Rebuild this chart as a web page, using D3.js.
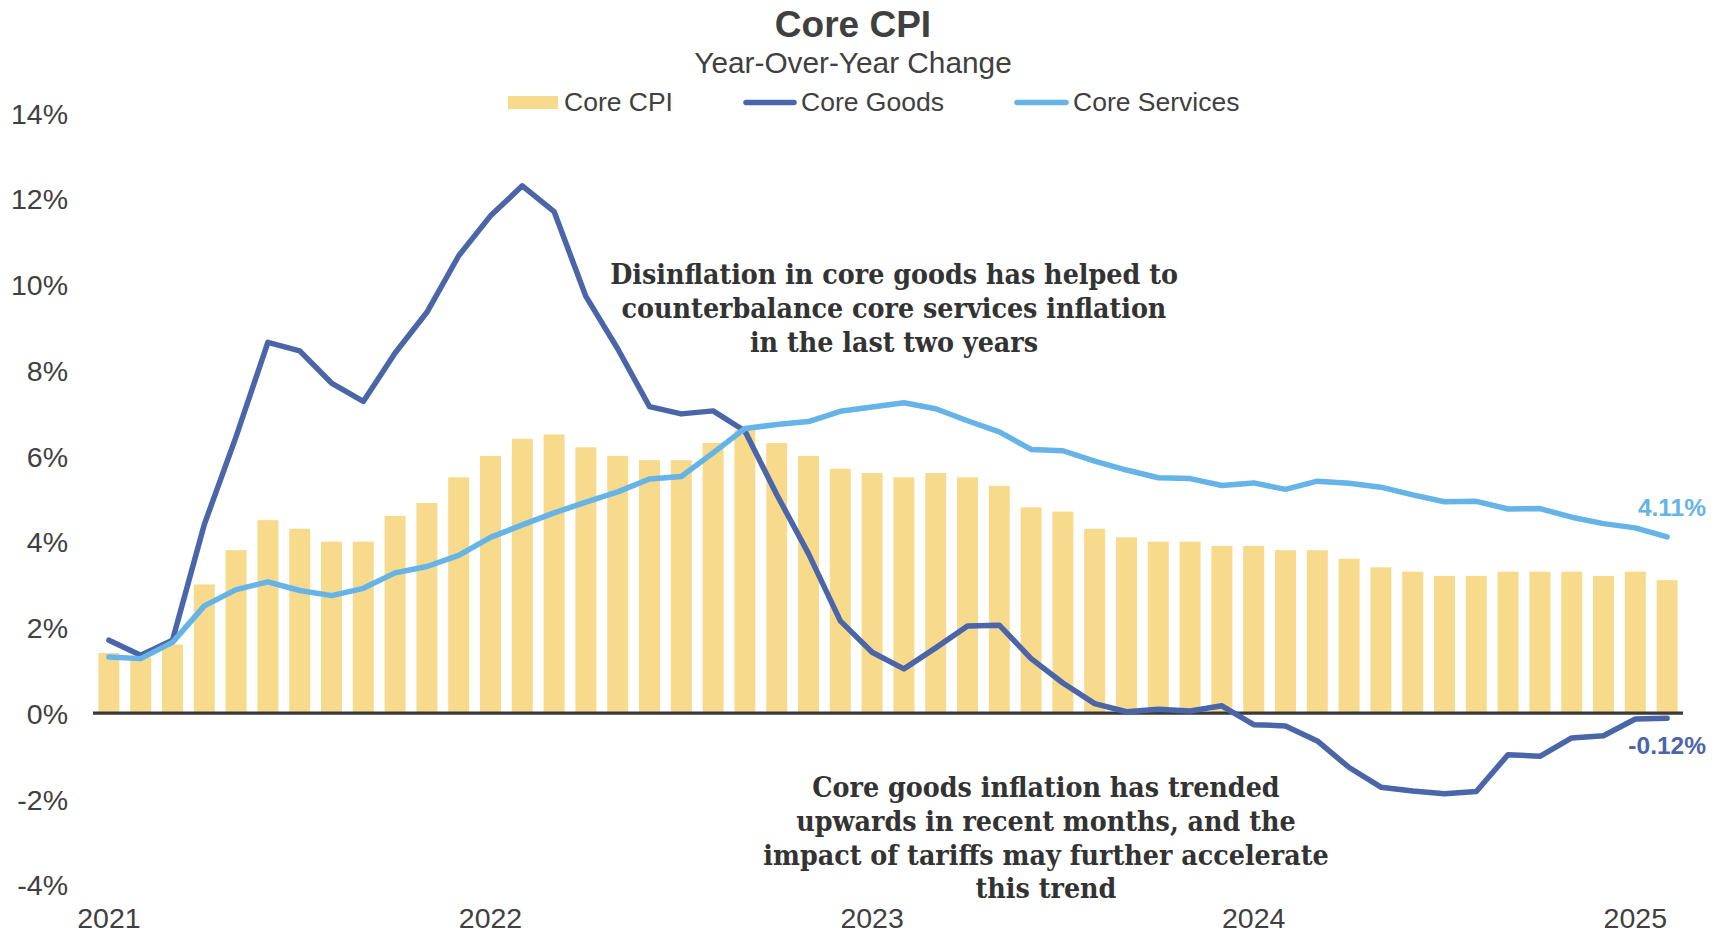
<!DOCTYPE html>
<html>
<head>
<meta charset="utf-8">
<script src="https://cdn.jsdelivr.net/npm/d3@7/dist/d3.min.js"></script>
<style>
  html, body { margin: 0; padding: 0; background: #ffffff; }
  svg { display: block; }
</style>
</head>
<body>
<svg id="chart" width="1723" height="933"></svg>
<script>
// Monthly observations, Jan 2021 – Feb 2025
const months = [
  "2021-01","2021-02","2021-03","2021-04","2021-05","2021-06","2021-07","2021-08","2021-09","2021-10","2021-11","2021-12",
  "2022-01","2022-02","2022-03","2022-04","2022-05","2022-06","2022-07","2022-08","2022-09","2022-10","2022-11","2022-12",
  "2023-01","2023-02","2023-03","2023-04","2023-05","2023-06","2023-07","2023-08","2023-09","2023-10","2023-11","2023-12",
  "2024-01","2024-02","2024-03","2024-04","2024-05","2024-06","2024-07","2024-08","2024-09","2024-10","2024-11","2024-12",
  "2025-01","2025-02"
];

// Core CPI, year-over-year %
const coreCPI = [
  1.4, 1.3, 1.6, 3.0, 3.8, 4.5, 4.3, 4.0, 4.0, 4.6, 4.9, 5.5,
  6.0, 6.4, 6.5, 6.2, 6.0, 5.9, 5.9, 6.3, 6.6, 6.3, 6.0, 5.7,
  5.6, 5.5, 5.6, 5.5, 5.3, 4.8, 4.7, 4.3, 4.1, 4.0, 4.0, 3.9,
  3.9, 3.8, 3.8, 3.6, 3.4, 3.3, 3.2, 3.2, 3.3, 3.3, 3.3, 3.2,
  3.3, 3.1
];

// Core goods, year-over-year %
const coreGoods = [
  1.7, 1.35, 1.7, 4.4, 6.45, 8.65, 8.45, 7.7, 7.27, 8.4, 9.35, 10.67,
  11.6, 12.3, 11.7, 9.72, 8.5, 7.15, 6.98, 7.05, 6.58, 5.1, 3.72, 2.15,
  1.42, 1.03, 1.52, 2.03, 2.05, 1.27, 0.7, 0.22, 0.03, 0.09, 0.05, 0.17,
  -0.27, -0.3, -0.65, -1.27, -1.73, -1.82, -1.88, -1.83, -0.97, -1.01, -0.58, -0.53,
  -0.14, -0.12
];

// Core services, year-over-year %
const coreServices = [
  1.31, 1.27, 1.65, 2.5, 2.88, 3.06, 2.86, 2.74, 2.91, 3.27, 3.42, 3.68,
  4.1, 4.39, 4.67, 4.92, 5.16, 5.46, 5.52, 6.07, 6.64, 6.73, 6.8, 7.04,
  7.14, 7.24, 7.1, 6.82, 6.56, 6.15, 6.12, 5.88, 5.67, 5.49, 5.47, 5.31,
  5.37, 5.22, 5.41, 5.36, 5.27, 5.09, 4.93, 4.94, 4.76, 4.77, 4.57, 4.42,
  4.32, 4.11
];

const yTicks = [-4, -2, 0, 2, 4, 6, 8, 10, 12, 14];
const yearLabels = ["2021", "2022", "2023", "2024", "2025"];

const seriesNames = ["Core CPI", "Core Goods", "Core Services"];
const colors = { cpi: "#f7da8c", goods: "#4a65a8", services: "#66b3e8", text: "#404040" };

const noteTop = [
  "Disinflation in core goods has helped to",
  "counterbalance core services inflation",
  "in the last two years"
];
const noteBottom = [
  "Core goods inflation has trended",
  "upwards in recent months, and the",
  "impact of tariffs may further accelerate",
  "this trend"
];

const svg = d3.select("#chart");
const sans = "'Liberation Sans', Arial, sans-serif";
const serif = "'DejaVu Serif Condensed', 'Liberation Serif', serif";

const x = d3.scaleBand().domain(months).range([93, 1683]).paddingInner(0.34).paddingOuter(0.17);
const y = d3.scaleLinear().domain([-4, 14]).range([884.5, 113]);
const cx = m => x(m) + x.bandwidth() / 2;

// Title block
svg.append("text").attr("x", 853).attr("y", 37).attr("text-anchor", "middle")
  .attr("font-family", sans).attr("font-weight", "bold").attr("font-size", 37)
  .attr("fill", colors.text).text("Core CPI");
svg.append("text").attr("x", 853).attr("y", 73).attr("text-anchor", "middle")
  .attr("font-family", sans).attr("font-size", 29.8)
  .attr("fill", colors.text).text("Year-Over-Year Change");

// Legend
const legend = svg.append("g").attr("font-family", sans).attr("font-size", 26.5).attr("fill", colors.text);
legend.append("rect").attr("x", 508).attr("y", 96).attr("width", 50).attr("height", 13).attr("fill", colors.cpi);
legend.append("text").attr("x", 564).attr("y", 111).text(seriesNames[0]);
legend.append("line").attr("x1", 746).attr("x2", 794).attr("y1", 102.5).attr("y2", 102.5)
  .attr("stroke", colors.goods).attr("stroke-width", 5.5).attr("stroke-linecap", "round");
legend.append("text").attr("x", 801).attr("y", 111).text(seriesNames[1]);
legend.append("line").attr("x1", 1017).attr("x2", 1066).attr("y1", 102.5).attr("y2", 102.5)
  .attr("stroke", colors.services).attr("stroke-width", 5.5).attr("stroke-linecap", "round");
legend.append("text").attr("x", 1073).attr("y", 111).text(seriesNames[2]);

// Y axis (labels only)
const yAxis = d3.axisLeft(y).tickValues(yTicks).tickSize(0).tickPadding(0)
  .tickFormat(d => d + "%");
svg.append("g").attr("transform", "translate(68,0)").call(yAxis)
  .call(g => g.select(".domain").remove())
  .call(g => g.selectAll("text").attr("font-family", sans).attr("font-size", 28.5)
    .attr("fill", colors.text).attr("dy", "0.36em"));

// X axis (year labels at each January)
const xAxis = d3.axisBottom(x)
  .tickValues(months.filter(m => m.endsWith("-01")))
  .tickSize(0).tickPadding(0)
  .tickFormat(m => yearLabels[yearLabels.indexOf(m.slice(0, 4))]);
svg.append("g").attr("transform", "translate(0,908)").call(xAxis)
  .call(g => g.select(".domain").remove())
  .call(g => g.selectAll("text").attr("font-family", sans).attr("font-size", 28.5)
    .attr("fill", colors.text).attr("dy", "0.71em"));

// Bars
svg.append("g").selectAll("rect").data(coreCPI).join("rect")
  .attr("x", (d, i) => x(months[i]))
  .attr("width", x.bandwidth())
  .attr("y", d => y(Math.max(0, d)))
  .attr("height", d => Math.abs(y(d) - y(0)))
  .attr("fill", colors.cpi);

// Zero line
svg.append("line").attr("x1", 93).attr("x2", 1683).attr("y1", y(0)).attr("y2", y(0))
  .attr("stroke", "#3a3a3a").attr("stroke-width", 3.2);

// Lines
const line = d3.line().x((d, i) => cx(months[i])).y(d => y(d));
svg.append("path").datum(coreGoods).attr("d", line).attr("fill", "none")
  .attr("stroke", colors.goods).attr("stroke-width", 5.5).attr("stroke-linejoin", "round").attr("stroke-linecap", "round");
svg.append("path").datum(coreServices).attr("d", line).attr("fill", "none")
  .attr("stroke", colors.services).attr("stroke-width", 5.5).attr("stroke-linejoin", "round").attr("stroke-linecap", "round");

// End value labels
const last = months.length - 1;
svg.append("text").attr("x", 1706).attr("y", y(coreServices[last]) - 21)
  .attr("text-anchor", "end").attr("font-family", sans).attr("font-weight", "bold").attr("font-size", 24.5)
  .attr("fill", colors.services).text(coreServices[last].toFixed(2) + "%");
svg.append("text").attr("x", 1706).attr("y", y(coreGoods[last]) + 36)
  .attr("text-anchor", "end").attr("font-family", sans).attr("font-weight", "bold").attr("font-size", 24.5)
  .attr("fill", colors.goods).text(coreGoods[last].toFixed(2) + "%");

// Annotations
function note(lines, cxPos, firstY) {
  const t = svg.append("text").attr("text-anchor", "middle").attr("font-family", serif)
    .attr("font-weight", "bold").attr("font-size", 28.3).attr("fill", "#333333");
  lines.forEach((s, i) => t.append("tspan").attr("x", cxPos).attr("y", firstY + i * 33.8).text(s));
}
note(noteTop, 894, 284);
note(noteBottom, 1046, 797);
</script>
</body>
</html>
